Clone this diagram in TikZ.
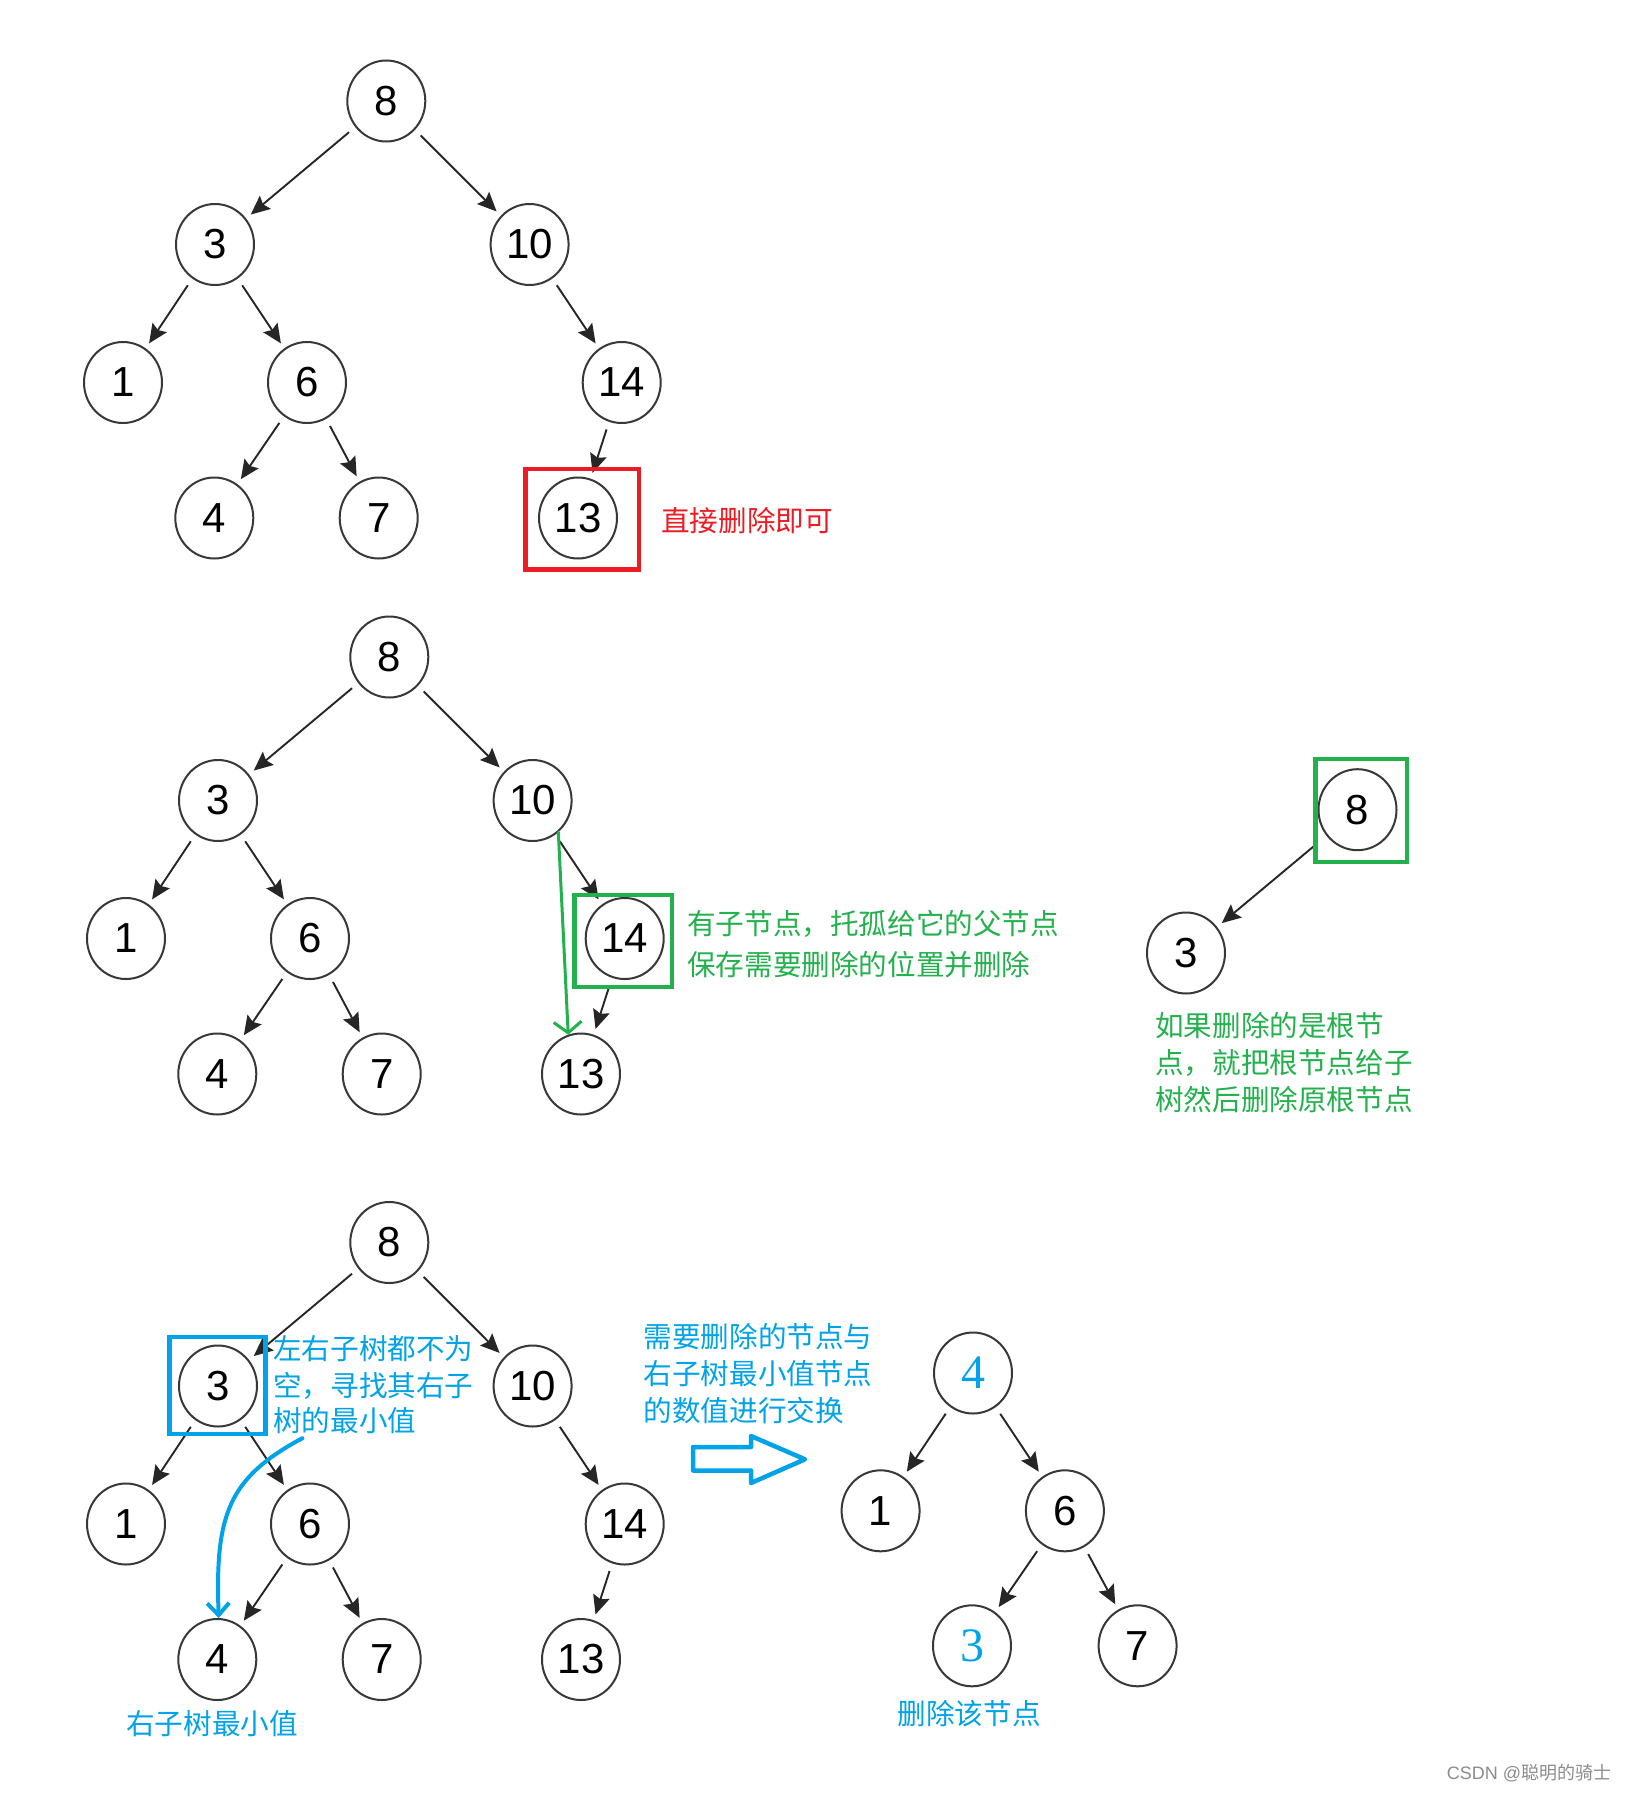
\documentclass[tikz,border=0pt]{standalone}
\usepackage{fontspec}
\setmainfont{Liberation Sans}
\newfontfamily\cjk{Noto Sans CJK SC}
\newfontfamily\numserif{Liberation Serif}
\usetikzlibrary{arrows.meta,shapes.geometric}
\definecolor{pblue}{HTML}{00A2E8}
\definecolor{pgreen}{HTML}{22B14C}
\definecolor{pred}{HTML}{ED1C24}
\newcommand{\bsttree}[1]{%
  \node[tn] (#1-8)  at (386.3,101)  {8};
  \node[tn] (#1-3)  at (215,244.5)  {3};
  \node[tn] (#1-10) at (529.6,244.5) {10};
  \node[tn] (#1-1)  at (123,382.5)  {1};
  \node[tn] (#1-6)  at (307,382.5)  {6};
  \node[tn] (#1-14) at (621.7,382.5) {14};
  \node[tn] (#1-4)  at (214.3,518)  {4};
  \node[tn] (#1-7)  at (378.7,518)  {7};
  \node[tn] (#1-13) at (578,518)    {13};
  \draw[edge] (#1-8) -- (#1-3);
  \draw[edge] (#1-8) -- (#1-10);
  \draw[edge] (#1-3) -- (#1-1);
  \draw[edge] (#1-3) -- (#1-6);
  \draw[edge] (#1-10) -- (#1-14);
  \draw[edge] (#1-6) -- (#1-4);
  \draw[edge] (#1-6) -- (#1-7);
  \draw[edge] (#1-14) -- (#1-13);
}
\begin{document}
\begin{tikzpicture}[x=1pt,y=-1pt,
  tn/.style={ellipse,draw=black!78,line width=2pt,minimum width=78pt,minimum height=81pt,inner sep=0pt,font=\fontsize{42}{42}\selectfont},
  bn/.style={tn,text=pblue,font=\numserif\fontsize{48}{48}\selectfont},
  edge/.style={line width=1.9pt,draw=black!85,-{Stealth[length=19pt,width=17pt,inset=3pt]},shorten <=8pt,shorten >=6pt},
  cjkt/.style={anchor=base west,inner sep=0pt,font=\cjk\fontsize{28.6}{34}\selectfont},
  frame/.style={line width=4.5pt}
]
\useasboundingbox[fill=white] (0,0) rectangle (1633,1793);

% tree 1
\bsttree{a}
\draw[frame,pred] (525.6,469.2) rectangle (639,569.4);
\node[cjkt,text=pred] (tdel) at (661,531) {直接删除即可};

% tree 2
\begin{scope}[shift={(3,556)}]
\bsttree{b}
\end{scope}
\draw[frame,pgreen] (574.3,895) rectangle (672,986.9);
\draw[pgreen,line width=3pt,line cap=round,-{Straight Barb[length=11pt,width=28pt]}] (b-10.-51) -- (b-13.108);
\node[cjkt,text=pgreen] (tg1) at (687,934.6) {有子节点，托孤给它的父节点};
\node[cjkt,text=pgreen] (tg2) at (687,975.9) {保存需要删除的位置并删除};

% root deletion
\node[tn] (r-8) at (1357.5,809.7) {8};
\node[tn] (r-3) at (1186,953) {3};
\draw[edge,shorten <=17pt] (r-8) -- (r-3);
\draw[frame,pgreen] (1315.5,759) rectangle (1407,861.8);
\node[cjkt,text=pgreen] (tr1) at (1155,1036.9) {如果删除的是根节};
\node[cjkt,text=pgreen] (tr2) at (1155,1073.6) {点，就把根节点给子};
\node[cjkt,text=pgreen] (tr3) at (1155,1110.9) {树然后删除原根节点};

% tree 3
\begin{scope}[shift={(3,1141.5)}]
\bsttree{c}
\end{scope}
\draw[frame,pblue] (169.3,1336.8) rectangle (265.4,1433.8);
\node[cjkt,text=pblue] (tb1) at (273,1359.2) {左右子树都不为};
\node[cjkt,text=pblue] (tb2) at (273,1396.2) {空，寻找其右子};
\node[cjkt,text=pblue] (tb3) at (273,1431.4) {树的最小值};
\coordinate (cstart) at (302.4,1438.2);
\draw[pblue,line width=4pt,line cap=round,-{Straight Barb[length=12pt,width=22pt]}] (cstart) .. controls (228,1478) and (215,1515) .. (c-4.88);
\node[cjkt,text=pblue] (tmin) at (126,1734.7) {右子树最小值};

% swap text and hollow arrow
\node[cjkt,text=pblue] (ts1) at (643.5,1347.6) {需要删除的节点与};
\node[cjkt,text=pblue] (ts2) at (643.5,1384.9) {右子树最小值节点};
\node[cjkt,text=pblue] (ts3) at (643.5,1421.6) {的数值进行交换};
\draw[pblue,line width=4.5pt,line join=round] (693,1447) -- (751,1447) -- (751,1436) -- (805,1459.3) -- (751,1483) -- (751,1470.5) -- (693,1470.5) -- cycle;

% result tree
\node[bn] (d-4) at (973,1373) {4};
\node[tn] (d-1) at (880.6,1510.8) {1};
\node[tn] (d-6) at (1064.9,1510.8) {6};
\node[bn] (d-3) at (972,1645.8) {3};
\node[tn] (d-7) at (1137.6,1645.8) {7};
\draw[edge] (d-4) -- (d-1);
\draw[edge] (d-4) -- (d-6);
\draw[edge] (d-6) -- (d-3);
\draw[edge] (d-6) -- (d-7);
\node[cjkt,text=pblue] (tdn) at (897.5,1724.9) {删除该节点};

% watermark
\node[anchor=base west,inner sep=0pt,text=black!45,font=\fontsize{18}{18}\selectfont] (wm) at (1446.7,1779) {CSDN @{\cjk 聪明的骑士}};
\end{tikzpicture}
\end{document}
